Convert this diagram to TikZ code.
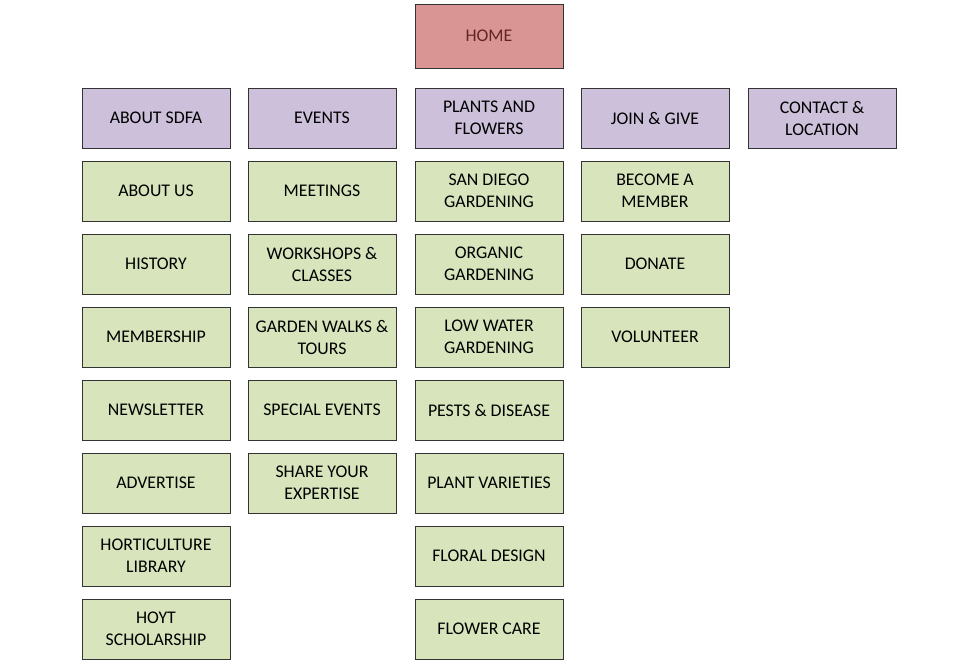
\documentclass[tikz,border=0pt]{standalone}
\usepackage{fontspec}
\setmainfont{Carlito}
\usetikzlibrary{positioning}
\definecolor{homefill}{HTML}{D99594}
\definecolor{hometext}{HTML}{632423}
\definecolor{menufill}{HTML}{CCC0DA}
\definecolor{pagefill}{HTML}{D7E4BC}
\tikzset{
  box/.style={draw=black!80,line width=0.8pt,minimum width=148pt,minimum height=60pt,
    align=center,inner sep=2pt,font=\fontsize{17.8}{22}\selectfont},
  homebox/.style={box,fill=homefill,text=hometext,minimum height=64pt},
  menubox/.style={box,fill=menufill},
  pagebox/.style={box,fill=pagefill},
}
\begin{document}
\begin{tikzpicture}[x=1pt,y=-1pt,node distance=73pt]
\useasboundingbox (0,0) rectangle (968,670);
\node[homebox] (home) at (489,36) {HOME};

\node[menubox] (about) at (156,118) {ABOUT SDFA};
\node[menubox] (events) at (322,118) {EVENTS};
\node[menubox] (plants) at (489,118) {PLANTS AND\\FLOWERS};
\node[menubox] (join) at (655,118) {JOIN \& GIVE};
\node[menubox] (contact) at (822,118) {CONTACT \&\\LOCATION};

% about sdfa
\node[pagebox,below of=about] (aboutus) {ABOUT US};
\node[pagebox,below of=aboutus] (history) {HISTORY};
\node[pagebox,below of=history] (membership) {MEMBERSHIP};
\node[pagebox,below of=membership] (newsletter) {NEWSLETTER};
\node[pagebox,below of=newsletter] (advertise) {ADVERTISE};
\node[pagebox,below of=advertise] (library) {HORTICULTURE\\LIBRARY};
\node[pagebox,below of=library] (hoyt) {HOYT\\SCHOLARSHIP};

% events
\node[pagebox,below of=events] (meetings) {MEETINGS};
\node[pagebox,below of=meetings] (workshops) {WORKSHOPS \&\\CLASSES};
\node[pagebox,below of=workshops] (walks) {GARDEN WALKS \&\\TOURS};
\node[pagebox,below of=walks] (special) {SPECIAL EVENTS};
\node[pagebox,below of=special] (expertise) {SHARE YOUR\\EXPERTISE};

% plants and flowers
\node[pagebox,below of=plants] (sandiego) {SAN DIEGO\\GARDENING};
\node[pagebox,below of=sandiego] (organic) {ORGANIC\\GARDENING};
\node[pagebox,below of=organic] (lowwater) {LOW WATER\\GARDENING};
\node[pagebox,below of=lowwater] (pests) {PESTS \& DISEASE};
\node[pagebox,below of=pests] (varieties) {PLANT VARIETIES};
\node[pagebox,below of=varieties] (floral) {FLORAL DESIGN};
\node[pagebox,below of=floral] (care) {FLOWER CARE};

% join and give
\node[pagebox,below of=join] (member) {BECOME A\\MEMBER};
\node[pagebox,below of=member] (donate) {DONATE};
\node[pagebox,below of=donate] (volunteer) {VOLUNTEER};

\end{tikzpicture}
\end{document}
